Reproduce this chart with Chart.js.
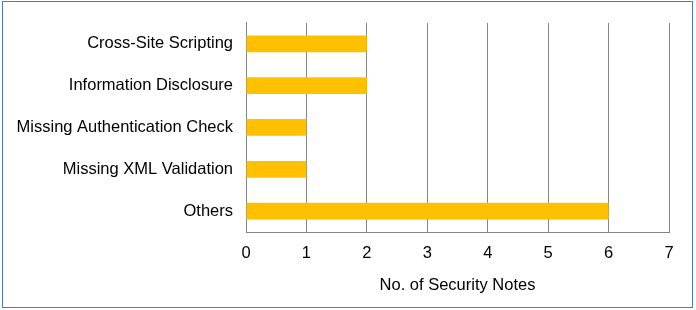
<!DOCTYPE html>
<html>
<head>
<meta charset="utf-8">
<script src="https://cdn.jsdelivr.net/npm/chart.js@4"></script>
<style>
  html, body { margin: 0; padding: 0; background: #fff; }
  .wrap { position: relative; width: 696px; height: 310px; }
  .frame {
    position: absolute; left: 2px; top: 1px; width: 689px; height: 305px;
    border: 1px solid #4a7ebb; pointer-events: none;
  }
</style>
</head>
<body>
<div class="wrap">
  <canvas id="chart" width="696" height="310"></canvas>
  <div class="frame"></div>
</div>
<script>
// Notas de seguridad por categoria
const categories = [
  "Cross-Site Scripting",
  "Information Disclosure",
  "Missing Authentication Check",
  "Missing XML Validation",
  "Others",
];
const noteCounts = [2, 2, 1, 1, 6];
const xTicks = [0, 1, 2, 3, 4, 5, 6, 7];
const xTitle = "No. of Security Notes";

const FONT = "'Liberation Sans', Arial, sans-serif";
const SIZE = 16.5;

const ctx = document.getElementById("chart").getContext("2d");
new Chart(ctx, {
  type: "bar",
  data: {
    labels: categories,
    datasets: [{
      data: noteCounts,
      backgroundColor: "#ffc000",
      borderWidth: 0,
      barPercentage: 0.4,
      categoryPercentage: 1,
    }],
  },
  options: {
    indexAxis: "y",
    responsive: false,
    animation: false,
    layout: { padding: { top: 19, right: 27, bottom: 0, left: 0 } },
    plugins: { legend: { display: false }, tooltip: { enabled: false } },
    scales: {
      x: {
        min: xTicks[0],
        max: xTicks[xTicks.length - 1],
        afterBuildTicks: (s) => { s.ticks = xTicks.map((v) => ({ value: v })); },
        afterFit: (s) => { s.height = 78; },
        grid: { color: "#868686", drawTicks: false },
        border: { color: "#868686" },
        ticks: { color: "#000", font: { family: FONT, size: SIZE }, padding: 12 },
        title: {
          display: true,
          text: xTitle,
          color: "#000",
          font: { family: FONT, size: SIZE },
          padding: { top: 4, bottom: 15 },
        },
      },
      y: {
        afterFit: (s) => { s.width = 246; },
        grid: { display: false, drawTicks: false },
        border: { color: "#868686" },
        ticks: { color: "#000", font: { family: FONT, size: SIZE }, padding: 13 },
      },
    },
  },
});
</script>
</body>
</html>
